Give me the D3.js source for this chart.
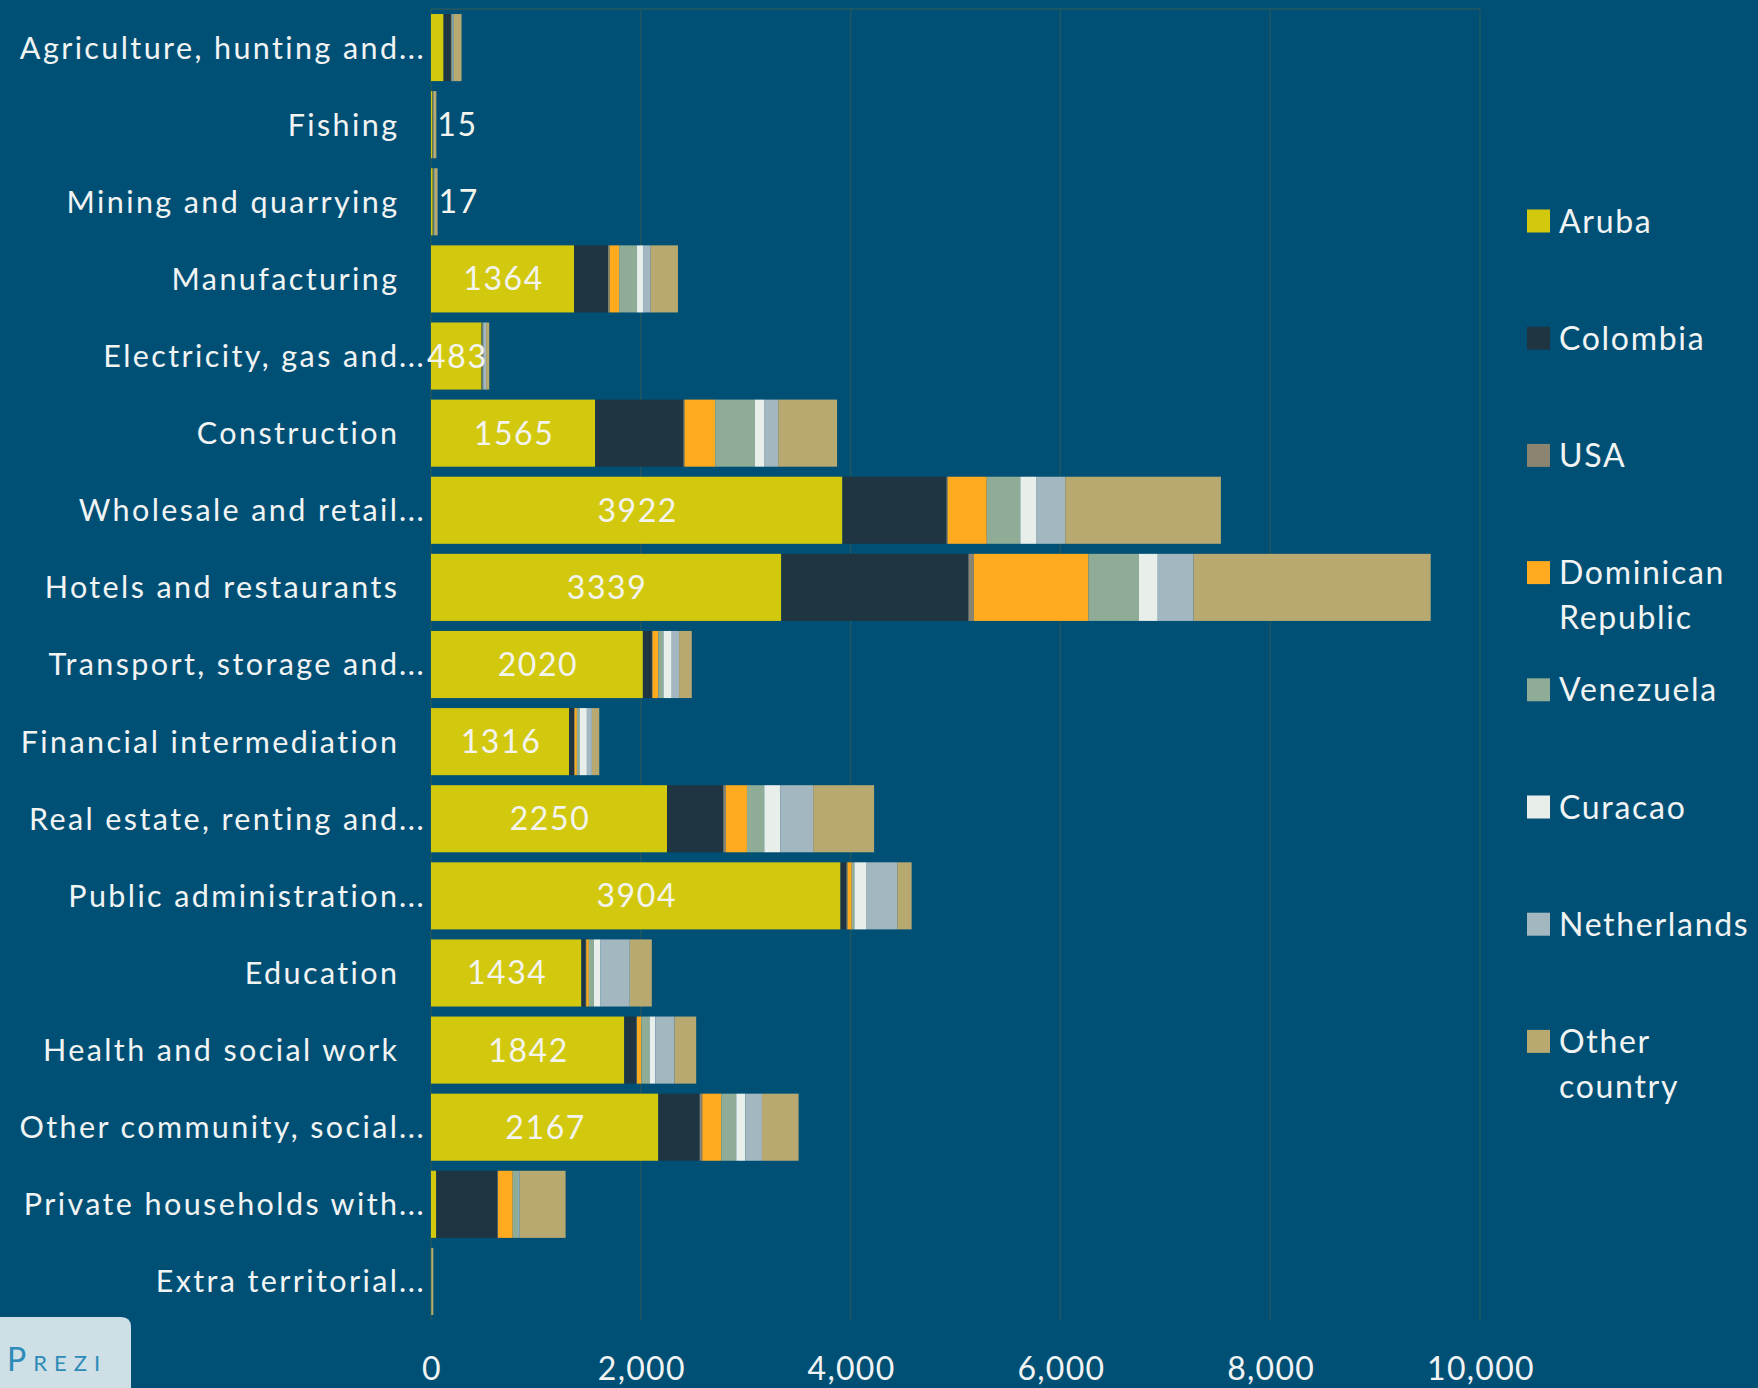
<!DOCTYPE html>
<html>
<head>
<meta charset="utf-8">
<script src="https://cdn.jsdelivr.net/npm/d3@7"></script>
<style>
  html, body { margin: 0; padding: 0; background: #005076; }
  svg { display: block; font-family: "Lato", "Open Sans", sans-serif; }
</style>
</head>
<body>
<svg width="1758" height="1388"></svg>
<script>
// categories (truncated the way the source chart shows them)
var categories = ["Agriculture, hunting and...", "Fishing", "Mining and quarrying", "Manufacturing",
  "Electricity, gas and...", "Construction", "Wholesale and retail...", "Hotels and restaurants",
  "Transport, storage and...", "Financial intermediation", "Real estate, renting and...",
  "Public administration...", "Education", "Health and social work", "Other community, social...",
  "Private households with...", "Extra territorial..."]

var aruba       = [120, 15, 17, 1364, 483, 1565, 3922, 3339, 2020, 1316, 2250, 3904, 1434, 1842, 2167, 50, 5]
var colombia    = [70, 3, 5, 324, 5, 842, 993, 1784, 86, 48, 537, 57, 41, 117, 394, 584, 0]
var usa         = [5, 1, 2, 16, 2, 10, 10, 52, 5, 5, 25, 10, 5, 5, 25, 5, 0]
var dominican   = [3, 1, 2, 89, 2, 292, 373, 1093, 57, 22, 200, 40, 25, 41, 181, 140, 0]
var venezuela   = [5, 2, 3, 171, 5, 379, 320, 481, 48, 25, 165, 25, 48, 79, 143, 51, 0]
var curacao     = [3, 1, 1, 63, 3, 87, 150, 179, 79, 70, 152, 117, 63, 54, 86, 5, 0]
var netherlands = [10, 3, 5, 67, 25, 135, 278, 341, 70, 48, 314, 292, 279, 184, 159, 10, 2]
var other       = [75, 25, 28, 260, 30, 561, 1484, 2261, 121, 70, 581, 137, 210, 206, 349, 438, 15]

// data labels on the Aruba segments (null = not shown)
var arubaLabels = [null, 15, 17, 1364, 483, 1565, 3922, 3339, 2020, 1316, 2250, 3904, 1434, 1842, 2167, null, null]

var seriesNames = ["Aruba", "Colombia", "USA", "Dominican Republic", "Venezuela", "Curacao", "Netherlands", "Other country"]
var seriesValues = [aruba, colombia, usa, dominican, venezuela, curacao, netherlands, other]
var seriesColors = ["#d2c80e", "#1f3542", "#8a8470", "#ffaa1f", "#8fac96", "#e8eeea", "#a3b7c0", "#b8a971"]
var xTicks = [0, 2000, 4000, 6000, 8000, 10000]

var svg = d3.select("svg")

// build rows for the stack
var rows = categories.map(function(c, i) {
  var r = { cat: c }
  seriesNames.forEach(function(s, j) { r[s] = seriesValues[j][i] })
  return r
})
var stacked = d3.stack().keys(seriesNames)(rows)

var x = d3.scaleLinear().domain([0, 10000]).range([431, 1480])
var y = d3.scaleBand().domain(categories).range([9, 1320]).paddingInner(0.13).paddingOuter(0.065)
var color = d3.scaleOrdinal().domain(seriesNames).range(seriesColors)

// gridlines
svg.append("g").selectAll("line").data(xTicks).enter().append("line")
  .attr("x1", function(d) { return x(d) }).attr("x2", function(d) { return x(d) })
  .attr("y1", 9).attr("y2", 1320)
  .attr("stroke", "#24585f").attr("stroke-width", 1.3)
svg.append("line").attr("x1", x(0)).attr("x2", x(10000)).attr("y1", 9).attr("y2", 9)
  .attr("stroke", "#24585f").attr("stroke-width", 1.3)

// bars
svg.append("g").selectAll("g").data(stacked).enter().append("g")
  .attr("fill", function(d) { return color(d.key) })
  .selectAll("rect").data(function(d) { return d }).enter().append("rect")
  .attr("x", function(d) { return x(d[0]) })
  .attr("width", function(d) { return Math.max(0, x(d[1]) - x(d[0])) })
  .attr("y", function(d) { return y(d.data.cat) })
  .attr("height", y.bandwidth())

// data labels
var last = stacked[stacked.length - 1]
svg.append("g").selectAll("text").data(categories).enter()
  .filter(function(d, i) { return arubaLabels[i] != null })
  .append("text")
  .attr("x", function(d) {
    var i = categories.indexOf(d)
    if (aruba[i] > 100) return (x(0) + x(aruba[i])) / 2 + 1
    return x(last[i][1]) + 1
  })
  .attr("text-anchor", function(d) { return aruba[categories.indexOf(d)] > 100 ? "middle" : "start" })
  .attr("y", function(d) { return y(d) + y.bandwidth() / 2 })
  .attr("dy", "0.36em")
  .attr("fill", "#f4f4ee").attr("font-size", 32).attr("letter-spacing", 1.6)
  .text(function(d) { return arubaLabels[categories.indexOf(d)] })

// category labels, the "..." hangs past the common right edge
var catG = svg.append("g").selectAll("g").data(categories).enter().append("g")
  .attr("transform", function(d) { return "translate(397," + (y(d) + y.bandwidth() / 2) + ")" })
catG.append("text")
  .attr("x", 2.4)
  .attr("text-anchor", "end").attr("dy", "0.36em")
  .attr("fill", "#f2f4f4").attr("font-size", 30.5).attr("letter-spacing", 2.4)
  .text(function(d) { return d.replace(/\.\.\.$/, "") })
catG.filter(function(d) { return /\.\.\.$/.test(d) }).append("text")
  .attr("x", 2).attr("dy", "0.36em")
  .attr("fill", "#f2f4f4").attr("font-size", 30.5).attr("letter-spacing", 1.5)
  .text("...")

// x tick labels
svg.append("g").selectAll("text").data(xTicks).enter().append("text")
  .attr("x", function(d) { return x(d) + 1 }).attr("y", 1380)
  .attr("text-anchor", "middle").attr("fill", "#f2f4f4").attr("font-size", 32).attr("letter-spacing", 1.3)
  .text(d3.format(","))

// legend
var leg = svg.append("g").selectAll("g").data(seriesNames).enter().append("g")
  .attr("transform", function(d, i) { return "translate(1527," + (221 + i * 117.2) + ")" })
leg.append("rect").attr("x", 0).attr("y", -11.5).attr("width", 23).attr("height", 23)
  .attr("fill", function(d) { return color(d) })
leg.append("text").attr("x", 32).attr("dy", "0.36em")
  .attr("fill", "#f2f4f4").attr("font-size", 32).attr("letter-spacing", 1.7)
  .selectAll("tspan").data(function(d) {
    return d === "Dominican Republic" ? ["Dominican", "Republic"] : d === "Other country" ? ["Other", "country"] : [d]
  }).enter().append("tspan")
  .attr("x", 32).attr("dy", function(d, i) { return i ? 45 : null })
  .text(function(d) { return d })

// Prezi badge
svg.append("path")
  .attr("d", "M0,1317 H121 Q131,1317 131,1327 V1388 H0 Z")
  .attr("fill", "#cfdfe6")
svg.append("text").attr("x", 7).attr("y", 1371)
  .attr("fill", "#2d8bb8").attr("font-size", 32).attr("letter-spacing", 7)
  .style("font-variant", "small-caps")
  .text("Prezi")
</script>
</body>
</html>
